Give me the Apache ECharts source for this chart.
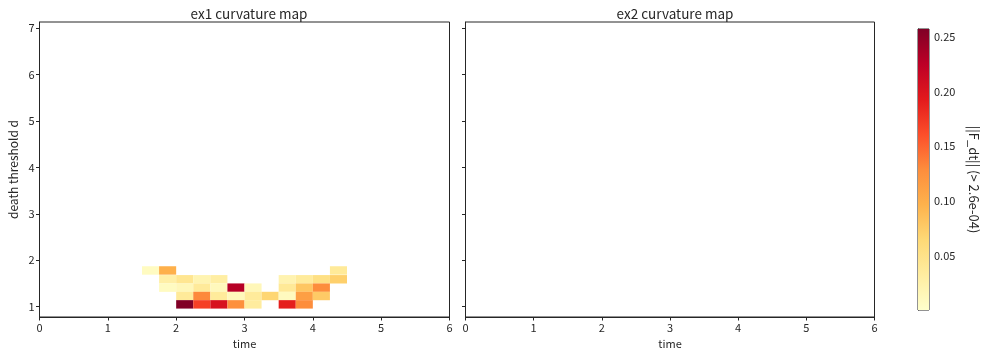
<!DOCTYPE html>
<html>
<head>
<meta charset="utf-8">
<script src="https://cdn.jsdelivr.net/npm/echarts@6/dist/echarts.min.js"></script>
<style>
  html, body { margin: 0; padding: 0; background: #fff; }
  #chart { width: 981px; height: 354px; }
</style>
</head>
<body>
<div id="chart"></div>
<script>
// Curvature map cells: left edge on the time axis, centre of the death-threshold row, ||F_dt||
const cellTime = [
  1.5, 1.75, 4.25,
  1.75, 2.0, 2.25, 2.5, 3.5, 3.75, 4.0, 4.25,
  1.75, 2.0, 2.25, 2.5, 2.75, 3.0, 3.5, 3.75, 4.0,
  2.0, 2.25, 2.5, 2.75, 3.0, 3.25, 3.5, 3.75, 4.0,
  2.0, 2.25, 2.5, 2.75, 3.0, 3.5, 3.75
];
const cellThreshold = [
  1.78, 1.78, 1.78,
  1.59, 1.59, 1.59, 1.59, 1.59, 1.59, 1.59, 1.59,
  1.41, 1.41, 1.41, 1.41, 1.41, 1.41, 1.41, 1.41, 1.41,
  1.23, 1.23, 1.23, 1.23, 1.23, 1.23, 1.23, 1.23, 1.23,
  1.05, 1.05, 1.05, 1.05, 1.05, 1.05, 1.05
];
const cellValue = [
  0.008, 0.098, 0.038,
  0.028, 0.044, 0.020, 0.030, 0.021, 0.036, 0.054, 0.072,
  0.008, 0.014, 0.037, 0.012, 0.229, 0.014, 0.039, 0.080, 0.129,
  0.038, 0.131, 0.036, 0.013, 0.036, 0.067, 0.010, 0.113, 0.077,
  0.257, 0.170, 0.203, 0.126, 0.034, 0.190, 0.129
];

// Grid cell size (time step, threshold step)
const STEP_T = 0.25;
const STEP_D = 0.1815;

// Axis ranges and ticks
const timeRange = [0, 6];
const timeTicks = [0, 1, 2, 3, 4, 5, 6];
const thresholdRange = [0.778, 7.129];
const thresholdTicks = [1, 2, 3, 4, 5, 6, 7];
const colorRange = [0.00026, 0.2573];
const colorTicks = [0.05, 0.10, 0.15, 0.20, 0.25];

const panelTitles = ['ex1 curvature map', 'ex2 curvature map'];
const colorbarLabel = '||F_dt|| (> 2.6e-04)';

// YlOrRd colour ramp
const ylOrRd = ['#ffffcc', '#ffeda0', '#fed976', '#feb24c', '#fd8d3c',
                '#fc4e2a', '#e31a1c', '#bd0026', '#800026'];

const FONT = '"Noto Sans CJK JP", "Noto Sans", sans-serif';
const INK = '#262626';

const ex1Data = cellTime.map((t, i) => [t, cellThreshold[i], cellValue[i]]);

function cellRenderer(params, api) {
  const t = api.value(0), d = api.value(1);
  const a = api.coord([t, d + STEP_D / 2]);
  const b = api.coord([t + STEP_T, d - STEP_D / 2]);
  return {
    type: 'rect',
    shape: { x: a[0], y: a[1], width: b[0] - a[0], height: b[1] - a[1] },
    style: { fill: api.visual('color') }
  };
}

function colorbarRenderer(params, api) {
  const a = api.coord([0, api.value(1)]);
  const b = api.coord([1, api.value(0)]);
  const stops = ylOrRd.map((c, i) => ({ offset: 1 - i / (ylOrRd.length - 1), color: c }));
  return {
    type: 'rect',
    shape: { x: a[0], y: a[1], width: b[0] - a[0], height: b[1] - a[1] },
    style: { fill: new echarts.graphic.LinearGradient(0, 0, 0, 1, stops) }
  };
}

const tickFmt = v => String(v);

function timeAxis(gridIndex) {
  return {
    type: 'value', gridIndex, min: timeRange[0], max: timeRange[1],
    name: 'time', nameLocation: 'middle', nameGap: 21,
    nameTextStyle: { fontFamily: FONT, fontSize: 11, color: INK },
    axisLine: { show: true, onZero: false, lineStyle: { color: INK, width: 1 } },
    axisTick: { show: true, inside: false, length: 3.5, customValues: timeTicks, lineStyle: { color: INK } },
    axisLabel: { show: true, margin: 5, customValues: timeTicks, formatter: tickFmt,
                 fontFamily: FONT, fontSize: 11, color: INK },
    splitLine: { show: false }
  };
}

function thresholdAxis(gridIndex, withLabels) {
  return {
    type: 'value', gridIndex, min: thresholdRange[0], max: thresholdRange[1],
    name: withLabels ? 'death threshold d' : '', nameLocation: 'middle', nameGap: 20,
    nameTextStyle: { fontFamily: FONT, fontSize: 12, color: INK },
    axisLine: { show: true, onZero: false, lineStyle: { color: INK, width: 1 } },
    axisTick: { show: true, inside: false, length: 3.5, customValues: thresholdTicks, lineStyle: { color: INK } },
    axisLabel: { show: withLabels, margin: 5, customValues: thresholdTicks, formatter: tickFmt,
                 fontFamily: FONT, fontSize: 11, color: INK },
    splitLine: { show: false }
  };
}

const gridStyle = { show: true, borderColor: INK, borderWidth: 1, backgroundColor: '#fff' };
const titleStyle = { fontFamily: FONT, fontSize: 13.5, fontWeight: 'normal', color: INK };

const option = {
  backgroundColor: '#fff',
  animation: false,
  title: [
    { text: panelTitles[0], left: 244, top: 2, textAlign: 'center', textStyle: titleStyle },
    { text: panelTitles[1], left: 670, top: 2, textAlign: 'center', textStyle: titleStyle }
  ],
  grid: [
    Object.assign({ left: 39.5, top: 22, width: 410, height: 295 }, gridStyle),
    Object.assign({ left: 465.5, top: 22, width: 409, height: 295 }, gridStyle),
    Object.assign({ left: 918, top: 29, width: 15, height: 281 }, gridStyle)
  ],
  xAxis: [
    timeAxis(0),
    timeAxis(1),
    { type: 'value', gridIndex: 2, min: 0, max: 1, show: false }
  ],
  yAxis: [
    thresholdAxis(0, true),
    thresholdAxis(1, false),
    {
      type: 'value', gridIndex: 2, position: 'right', min: colorRange[0], max: colorRange[1],
      name: colorbarLabel, nameLocation: 'middle', nameRotate: -90, nameGap: 38,
      nameTextStyle: { fontFamily: FONT, fontSize: 13, color: INK, padding: [0, 0, 0, 20] },
      axisLine: { show: true, lineStyle: { color: INK, width: 1 } },
      axisTick: { show: true, inside: false, length: 3.5, customValues: colorTicks, lineStyle: { color: INK } },
      axisLabel: { show: true, margin: 5, customValues: colorTicks, formatter: v => v.toFixed(2),
                   fontFamily: FONT, fontSize: 11, color: INK },
      splitLine: { show: false }
    }
  ],
  visualMap: {
    type: 'continuous', show: false, seriesIndex: 0, dimension: 2,
    min: colorRange[0], max: colorRange[1],
    inRange: { color: ylOrRd }
  },
  series: [
    { type: 'custom', name: 'ex1', xAxisIndex: 0, yAxisIndex: 0, clip: true,
      renderItem: cellRenderer, data: ex1Data, silent: true },
    { type: 'custom', name: 'ex2', xAxisIndex: 1, yAxisIndex: 1, clip: true,
      renderItem: cellRenderer, data: [], silent: true },
    { type: 'custom', name: 'colorbar', xAxisIndex: 2, yAxisIndex: 2, clip: true,
      renderItem: colorbarRenderer, data: [[colorRange[0], colorRange[1]]], silent: true }
  ]
};

const chart = echarts.init(document.getElementById('chart'), null, { renderer: 'canvas' });
chart.setOption(option);
</script>
</body>
</html>
